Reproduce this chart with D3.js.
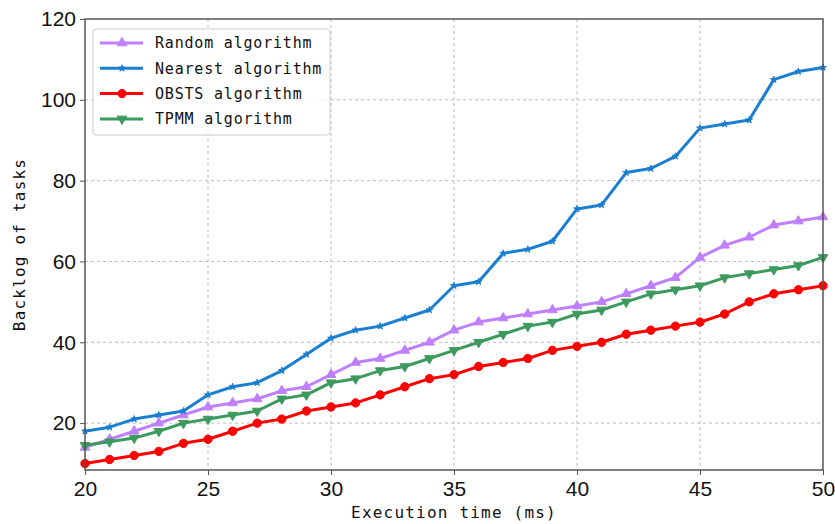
<!DOCTYPE html>
<html>
<head>
<meta charset="utf-8">
<script src="https://cdn.jsdelivr.net/npm/d3@7"></script>
<style>
  body { margin: 0; background: #fff; }
  .tick text { font-family: "Liberation Sans", Arial, sans-serif; font-size: 21px; fill: #111; }
  .lbl { font-family: "DejaVu Sans Mono", monospace; font-size: 15px; fill: #111; letter-spacing: 0.8px; }
  .ax { font-family: "DejaVu Sans Mono", monospace; font-size: 16px; fill: #111; letter-spacing: 1.2px; }
</style>
</head>
<body>
<div id="chart"></div>
<script>
// chart values
var times = d3.range(20, 51);
var randomAlg = [14, 16, 18, 20, 22, 24, 25, 26, 28, 29, 32, 35, 36, 38, 40, 43, 45, 46, 47, 48, 49, 50, 52, 54, 56, 61, 64, 66, 69, 70, 71];
var nearestAlg = [18, 19, 21, 22, 23, 27, 29, 30, 33, 37, 41, 43, 44, 46, 48, 54, 55, 62, 63, 65, 73, 74, 82, 83, 86, 93, 94, 95, 105, 107, 108];
var obstsAlg = [10, 11, 12, 13, 15, 16, 18, 20, 21, 23, 24, 25, 27, 29, 31, 32, 34, 35, 36, 38, 39, 40, 42, 43, 44, 45, 47, 50, 52, 53, 54];
var tpmmAlg = [14.5, 15.4, 16.3, 18, 20, 21, 22, 23, 26, 27, 30, 31, 33, 34, 36, 38, 40, 42, 44, 45, 47, 48, 50, 52, 53, 54, 56, 57, 58, 59, 61];
var xTicks = [20, 25, 30, 35, 40, 45, 50];
var yTicks = [20, 40, 60, 80, 100, 120];

var series = [
  { name: 'Random algorithm', values: randomAlg, color: '#bf7fff', symbol: d3.symbolTriangle, size: 40, rot: 0 },
  { name: 'Nearest algorithm', values: nearestAlg, color: '#1a7fd1', symbol: d3.symbolStar, size: 14, rot: 0 },
  { name: 'OBSTS algorithm', values: obstsAlg, color: '#ff0000', symbol: d3.symbolCircle, size: 55, rot: 0 },
  { name: 'TPMM algorithm', values: tpmmAlg, color: '#3d9a5e', symbol: d3.symbolTriangle, size: 40, rot: 180 }
];

var width = 835,
	height = 524,
	margin = { top: 19, right: 12, bottom: 54, left: 85 },
	drawWidth = width - margin.left - margin.right,
	drawHeight = height - margin.top - margin.bottom;

var svg = d3.select('#chart').append('svg')
	.attr('width', width)
	.attr('height', height);

var g = svg.append('g')
	.attr('transform', 'translate(' + margin.left + ',' + margin.top + ')');

var xScale = d3.scaleLinear().domain([20, 50]).range([0, drawWidth]);
var yScale = d3.scaleLinear().domain([8.4, 120]).range([drawHeight, 0]);

// grid
g.append('g').selectAll('line').data(xTicks.slice(1, -1)).enter().append('line')
	.attr('x1', function(d) { return xScale(d); })
	.attr('x2', function(d) { return xScale(d); })
	.attr('y1', 0).attr('y2', drawHeight)
	.attr('stroke', '#bbb').attr('stroke-dasharray', '3,3');
g.append('g').selectAll('line').data(yTicks.slice(0, -1)).enter().append('line')
	.attr('y1', function(d) { return yScale(d); })
	.attr('y2', function(d) { return yScale(d); })
	.attr('x1', 0).attr('x2', drawWidth)
	.attr('stroke', '#bbb').attr('stroke-dasharray', '3,3');

var xAxis = d3.axisBottom(xScale).tickValues(xTicks).tickSize(5).tickPadding(6);
var yAxis = d3.axisLeft(yScale).tickValues(yTicks).tickSize(5).tickPadding(4);

var xAxisLabel = g.append('g')
	.attr('transform', 'translate(0,' + drawHeight + ')')
	.call(xAxis);
var yAxisLabel = g.append('g').call(yAxis);
[xAxisLabel, yAxisLabel].forEach(function(a) {
	a.select('.domain').remove();
	a.selectAll('.tick line').attr('stroke', '#555');
});

// lines
var line = d3.line()
	.x(function(d, i) { return xScale(times[i]); })
	.y(function(d) { return yScale(d); });

series.forEach(function(s) {
	g.append('path')
		.datum(s.values)
		.attr('fill', 'none')
		.attr('stroke', s.color)
		.attr('stroke-width', 3)
		.attr('stroke-linejoin', 'round')
		.attr('d', line);
	g.append('g').selectAll('path').data(s.values).enter().append('path')
		.attr('d', d3.symbol().type(s.symbol).size(s.size))
		.attr('fill', s.color)
		.attr('stroke', s.color)
		.attr('transform', function(d, i) {
			return 'translate(' + xScale(times[i]) + ',' + yScale(d) + ') rotate(' + s.rot + ')';
		});
});

// frame
g.append('rect')
	.attr('width', drawWidth).attr('height', drawHeight)
	.attr('fill', 'none').attr('stroke', '#555').attr('stroke-width', 1.5);

// legend
var legend = g.append('g').attr('transform', 'translate(8,10)');
legend.append('rect')
	.attr('width', 237).attr('height', 106).attr('rx', 3)
	.attr('fill', '#fff').attr('fill-opacity', 0.85)
	.attr('stroke', '#ccc');
series.forEach(function(s, i) {
	var row = legend.append('g').attr('transform', 'translate(0,' + (14 + i * 25.3) + ')');
	row.append('line').attr('x1', 7).attr('x2', 50)
		.attr('stroke', s.color).attr('stroke-width', 3);
	row.append('path')
		.attr('d', d3.symbol().type(s.symbol).size(s.size))
		.attr('fill', s.color).attr('stroke', s.color)
		.attr('transform', 'translate(29,0) rotate(' + s.rot + ')');
	row.append('text').attr('class', 'lbl')
		.attr('x', 62).attr('y', 0).attr('dy', '0.35em')
		.text(s.name);
});

// axis titles
svg.append('text').attr('class', 'ax')
	.attr('text-anchor', 'middle')
	.attr('x', margin.left + drawWidth / 2)
	.attr('y', 518)
	.text('Execution time (ms)');
svg.append('text').attr('class', 'ax')
	.attr('text-anchor', 'middle')
	.attr('transform', 'translate(25,' + (margin.top + drawHeight / 2) + ') rotate(-90)')
	.text('Backlog of tasks');
</script>
</body>
</html>
